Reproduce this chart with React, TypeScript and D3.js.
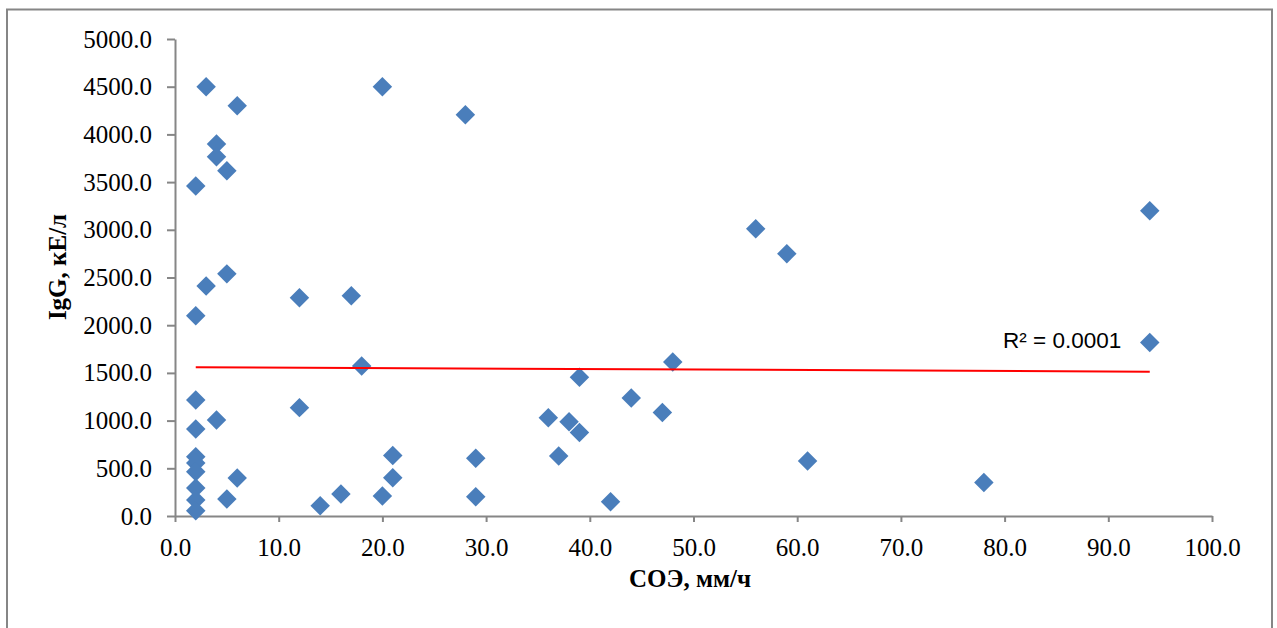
import React, { useEffect, useRef } from 'react'
import * as d3 from 'd3'

// СОЭ (мм/ч) vs IgG (кЕ/л)
const soe = [3, 6, 4, 4, 5, 2, 3, 5, 2, 12, 17, 20, 28, 18, 2, 12, 4, 2, 2, 2, 2, 2, 2, 2,
  5, 6, 14, 16, 20, 21, 21, 29, 29, 36, 37, 38, 39, 39, 42, 44, 47, 48, 61, 94, 94, 78, 56, 59]
const igg = [4500, 4300, 3900, 3765, 3620, 3460, 2412, 2538, 2100, 2287, 2308, 4500, 4206, 1573,
  1217, 1136, 1007, 912, 622, 555, 465, 293, 168, 56, 178, 398, 108, 231, 210, 633, 402, 605, 203,
  1031, 629, 989, 874, 1455, 150, 1238, 1084, 1615, 577, 3200, 1818, 350, 3010, 2750]

// linear trend as drawn in the chart
const trendX = [2, 94]
const trendY = [1560, 1513]
const rSquared = 'R² = 0.0001'

const xTicks = [0, 10, 20, 30, 40, 50, 60, 70, 80, 90, 100]
const yTicks = [0, 500, 1000, 1500, 2000, 2500, 3000, 3500, 4000, 4500, 5000]

const W = 1277
const H = 628
const axisColor = '#868686'
const serif = '"Liberation Serif", "Times New Roman", serif'

const App = () => {
  const svgRef = useRef<SVGSVGElement>(null)

  useEffect(() => {
    const svg = d3.select(svgRef.current)
    svg.selectAll('*').remove()

    const x = d3.scaleLinear().domain([0, 100]).range([175, 1212])
    const y = d3.scaleLinear().domain([0, 5000]).range([516, 39])

    svg.append('rect')
      .attr('x', 7).attr('y', 9.5)
      .attr('width', 1265).attr('height', 700)
      .attr('fill', '#fff')
      .attr('stroke', axisColor)
      .attr('stroke-width', 2)

    const yAxis = svg.append('g')
      .attr('transform', `translate(${x(0)},0)`)
      .call(d3.axisLeft(y).tickValues(yTicks).tickFormat(d3.format('.1f')).tickSize(8).tickSizeOuter(0).tickPadding(15))
    const xAxis = svg.append('g')
      .attr('transform', `translate(0,${y(0)})`)
      .call(d3.axisBottom(x).tickValues(xTicks).tickFormat(d3.format('.1f')).tickSize(6).tickSizeOuter(0).tickPadding(16))

    for (const ax of [xAxis, yAxis]) {
      ax.selectAll('path, line').attr('stroke', axisColor).attr('stroke-width', 2)
      ax.selectAll('text').attr('fill', '#000').style('font-family', serif).style('font-size', '25px')
    }

    const sym = d3.symbol().type(d3.symbolSquare).size(190)
    svg.append('g')
      .selectAll('path')
      .data(d3.range(soe.length))
      .join('path')
      .attr('d', sym() as string)
      .attr('fill', '#4a7ebb')
      .attr('transform', i => `translate(${x(soe[i])},${y(igg[i])}) rotate(45)`)

    const line = d3.line<number>().x(i => x(trendX[i])).y(i => y(trendY[i]))
    svg.append('path')
      .attr('d', line([0, 1]))
      .attr('fill', 'none')
      .attr('stroke', '#ff0000')
      .attr('stroke-width', 2)

    svg.append('text')
      .attr('x', 1003).attr('y', 348)
      .style('font-family', '"Liberation Sans", Arial, sans-serif')
      .style('font-size', '22.5px')
      .text(rSquared)

    svg.append('text')
      .attr('x', 690).attr('y', 587)
      .attr('text-anchor', 'middle')
      .style('font-family', serif).style('font-size', '25px').style('font-weight', 'bold')
      .text('СОЭ, мм/ч')

    svg.append('text')
      .attr('transform', 'translate(66,267) rotate(-90)')
      .attr('text-anchor', 'middle')
      .style('font-family', serif).style('font-size', '25px').style('font-weight', 'bold')
      .text('IgG, кЕ/л')
  }, [])

  return (
    <svg ref={svgRef} width={W} height={H} style={{ position: 'absolute', left: 0, top: 0, background: '#fff' }} />
  )
}

export default App
